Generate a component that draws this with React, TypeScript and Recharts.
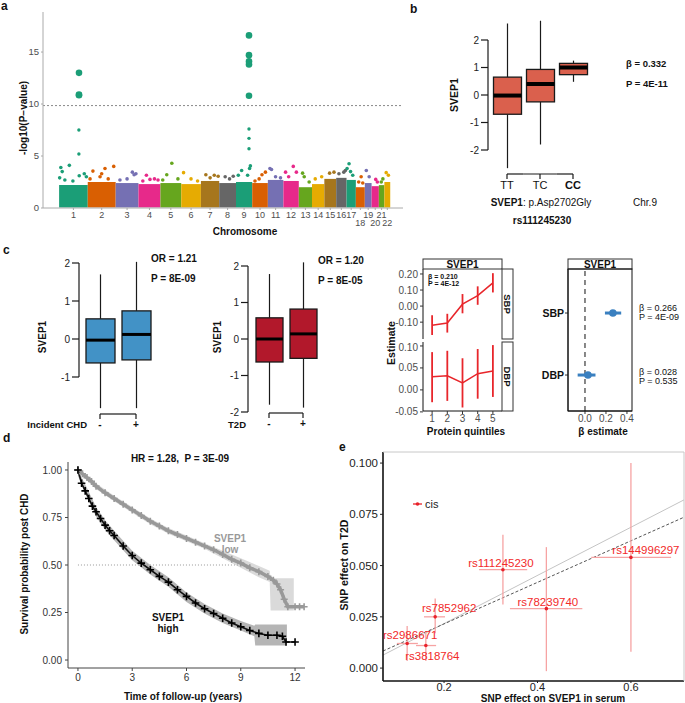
import React from "react";
import {
  ComposedChart,
  Bar,
  Line,
  Area,
  Scatter,
  XAxis,
  YAxis,
  ErrorBar,
  ReferenceLine,
  ReferenceArea,
} from "recharts";

const FONT = "'Liberation Sans', Arial, Helvetica, sans-serif";

// ---------- a: Manhattan ----------
const chromosomes = [1, 2, 3, 4, 5, 6, 7, 8, 9, 10, 11, 12, 13, 14, 15, 16, 17, 18, 19, 20, 21, 22];
const chromLengths = [249, 243, 198, 191, 181, 171, 159, 146, 141, 136, 135, 134, 115, 107, 103, 90, 81, 78, 59, 63, 48, 51];
const bandTops = [2.2, 2.5, 2.4, 2.3, 2.4, 2.3, 2.6, 2.4, 2.5, 2.4, 2.7, 2.6, 2.0, 2.3, 2.8, 2.9, 2.7, 2.0, 2.4, 2.1, 2.2, 2.5];
const gwThreshold = 9.85;
// [chromosome, position (Mb), -log10 P]
const snpPoints: [number, number, number][] = [
  [1, 15, 3.9], [1, 27, 3.5], [1, 89, 4.1], [1, 50, 2.7], [1, 175, 3.1], [1, 219, 3.3], [1, 237, 3.0], [1, 120, 2.6], [1, 5, 2.9],
  [2, 45, 3.55], [2, 150, 3.8], [2, 226, 4.0], [2, 107, 3.0], [2, 178, 2.8], [2, 20, 2.8], [2, 121, 3.3],
  [3, 145, 3.45], [3, 176, 3.3], [3, 37, 2.7], [3, 99, 2.8], [3, 160, 3.2],
  [4, 69, 3.15], [4, 139, 2.8], [4, 38, 2.6], [4, 170, 2.7], [4, 100, 2.75],
  [5, 99, 4.3], [5, 55, 3.2], [5, 152, 2.8], [5, 20, 2.7],
  [6, 20, 3.4], [6, 85, 2.8], [6, 142, 2.6],
  [7, 43, 3.2], [7, 116, 3.15], [7, 150, 3.05], [7, 80, 2.9],
  [8, 52, 3.0], [8, 122, 3.05], [8, 90, 2.8],
  [9, 20, 3.15], [9, 49, 3.6], [9, 101, 3.15], [9, 118, 3.8], [9, 125, 4.05],
  [10, 85, 3.2], [10, 115, 3.45], [10, 24, 2.6], [10, 60, 2.8],
  [11, 18, 3.8], [11, 32, 3.7], [11, 67, 3.0], [11, 110, 2.9],
  [12, 19, 3.45], [12, 86, 4.0], [12, 113, 3.45], [12, 46, 3.0],
  [13, 33, 3.35], [13, 47, 3.0], [13, 90, 2.5],
  [14, 28, 2.8], [14, 84, 3.0],
  [15, 46, 3.35], [15, 84, 3.45],
  [16, 24, 3.3], [16, 66, 3.45], [16, 80, 3.6],
  [17, 22, 4.25], [17, 5, 3.8], [17, 54, 3.15], [17, 35, 3.5],
  [18, 46, 3.0], [18, 25, 2.5], [18, 60, 2.4],
  [19, 13, 3.6], [19, 38, 3.0],
  [20, 36, 2.75], [20, 50, 2.5],
  [21, 21, 2.5], [21, 35, 2.8],
  [22, 16, 3.4], [22, 35, 3.15],
];
const hitPoints: [number, number, number][] = [
  [1, 173, 13.0], [1, 173, 10.9], [1, 173, 10.85], [1, 172, 7.5], [1, 172, 5.2],
  [9, 113, 16.6], [9, 113, 14.7], [9, 113, 14.1], [9, 113, 13.8], [9, 113, 10.8],
  [9, 113, 7.6], [9, 113, 6.7], [9, 113, 5.7],
];

// ---------- b: genotype boxplot ----------
const genotypes = ["TT", "TC", "CC"];
const genoMin = [-2.66, -1.8, 0.48];
const genoQ1 = [-0.7, -0.25, 0.74];
const genoMed = [-0.02, 0.4, 1.0];
const genoQ3 = [0.65, 0.93, 1.15];
const genoMax = [2.6, 2.7, 1.25];

// ---------- c: incident disease boxplots ----------
const caseGroups = ["-", "+"];
const chdMin = [-1.82, -1.82];
const chdQ1 = [-0.63, -0.55];
const chdMed = [-0.03, 0.12];
const chdQ3 = [0.53, 0.74];
const chdMax = [1.7, 2.03];
const t2dMin = [-1.8, -1.88];
const t2dQ1 = [-0.63, -0.53];
const t2dMed = [0.0, 0.14];
const t2dQ3 = [0.58, 0.82];
const t2dMax = [1.78, 2.1];

// ---------- c: blood pressure by quintile ----------
const quintiles = [1, 2, 3, 4, 5];
const sbpEst = [-0.12, -0.105, 0.012, 0.065, 0.145];
const sbpLo = [-0.18, -0.165, -0.045, 0.008, 0.085];
const sbpHi = [-0.057, -0.048, 0.075, 0.123, 0.205];
const dbpEst = [0.03, 0.032, 0.016, 0.037, 0.043];
const dbpLo = [-0.028, -0.025, -0.04, -0.02, -0.016];
const dbpHi = [0.086, 0.089, 0.072, 0.093, 0.102];

// ---------- c: forest ----------
const bpTraits = ["SBP", "DBP"];
const bpBeta = [0.266, 0.028];
const bpLo = [0.19, -0.07];
const bpHi = [0.345, 0.1];

// ---------- d: survival ----------
const lowT = [0, 0.25, 0.5, 0.75, 1, 1.5, 2, 2.5, 3, 3.5, 4, 4.5, 5, 5.5, 6, 6.5, 7, 7.5, 8, 8.5, 9, 9.5, 10, 10.5, 10.8, 11, 11.2, 11.4, 11.6, 12, 12.25, 12.5];
const lowS = [1.0, 0.98, 0.96, 0.94, 0.915, 0.88, 0.85, 0.82, 0.79, 0.76, 0.73, 0.705, 0.68, 0.66, 0.64, 0.62, 0.6, 0.58, 0.555, 0.53, 0.51, 0.485, 0.465, 0.44, 0.42, 0.4, 0.37, 0.32, 0.28, 0.28, 0.28, 0.28];
const lowBandT = [0, 1, 2, 3, 4, 5, 6, 7, 8, 9, 10, 10.6, 10.65, 11.93];
const lowBandLo = [0.99, 0.9, 0.835, 0.775, 0.715, 0.665, 0.625, 0.585, 0.535, 0.485, 0.435, 0.41, 0.26, 0.26];
const lowBandHi = [1.0, 0.93, 0.865, 0.805, 0.745, 0.695, 0.655, 0.615, 0.575, 0.535, 0.495, 0.47, 0.43, 0.43];
const highT = [0, 0.2, 0.4, 0.6, 0.8, 1.0, 1.25, 1.5, 1.75, 2, 2.5, 3, 3.5, 4, 4.5, 5, 5.5, 6, 6.5, 7, 7.5, 8, 8.5, 9, 9.5, 10, 10.5, 11, 11.3, 11.5, 12];
const highS = [1.0, 0.93, 0.89, 0.85, 0.81, 0.78, 0.745, 0.71, 0.68, 0.655, 0.6, 0.55, 0.51, 0.475, 0.44, 0.41, 0.37, 0.335, 0.3, 0.27, 0.245, 0.22, 0.195, 0.175, 0.155, 0.14, 0.13, 0.13, 0.125, 0.095, 0.095];
const highBandT = [0, 0.5, 1, 1.5, 2, 3, 4, 5, 6, 7, 8, 9, 9.75, 9.8, 11.55];
const highBandLo = [0.97, 0.855, 0.755, 0.685, 0.63, 0.525, 0.45, 0.385, 0.305, 0.245, 0.195, 0.155, 0.125, 0.077, 0.077];
const highBandHi = [1.0, 0.905, 0.805, 0.735, 0.68, 0.575, 0.5, 0.435, 0.355, 0.295, 0.245, 0.205, 0.18, 0.187, 0.187];

// ---------- e: MR scatter ----------
const snpIds = ["rs144996297", "rs111245230", "rs78239740", "rs7852962", "rs2986671", "rs3818764"];
const svepBeta = [0.6, 0.326, 0.419, 0.181, 0.121, 0.161];
const svepLo = [0.515, 0.275, 0.341, 0.157, 0.099, 0.14];
const svepHi = [0.686, 0.378, 0.496, 0.202, 0.144, 0.183];
const t2dBeta = [0.054, 0.048, 0.029, 0.025, 0.012, 0.011];
const t2dLo = [0.008, 0.031, -0.0015, 0.017, 0.0034, 0.0034];
const t2dHi = [0.1, 0.065, 0.059, 0.034, 0.0205, 0.018];
const mrSlopes = [0.1175, 0.1013];
const mrIntercepts = [-0.0018, 0.0013];

// ---------- styling helpers ----------
const dark2 = ["#1B9E77", "#D95F02", "#7570B3", "#E7298A", "#66A61E", "#E6AB02", "#A6761D", "#666666"];
const chrColor = (chr: number) => dark2[(chr - 1) % 8];
const chromStart: number[] = [];
chromLengths.reduce((acc, len, i) => {
  chromStart[i] = acc;
  return acc + len;
}, 0);

const labelOffsets: Record<string, [number, number]> = {
  rs144996297: [15, -7],
  rs111245230: [-2, -7],
  rs78239740: [1.5, -7],
  rs7852962: [14, -9],
  rs2986671: [3, -8],
  rs3818764: [6.5, 10],
};

function ChromTick(props: any) {
  const { x, y, payload, mids } = props;
  const i = mids.findIndex((m: number) => Math.abs(m - payload.value) < 0.01);
  const chr = chromosomes[i];
  const lower = chr === 18 || chr === 20 || chr === 22;
  return (
    <text x={x} y={y + (lower ? 10 : 2)} textAnchor="middle" dominantBaseline="central" fontSize={9} fill="#4d4d4d">
      {chr}
    </text>
  );
}

function Manhattan() {
  const pts = snpPoints.map(([chr, pos, p]) => ({ x: chromStart[chr - 1] + pos, y: p, chr }));
  const hits = hitPoints.map(([chr, pos, p]) => ({ x: chromStart[chr - 1] + pos, y: p, chr }));
  const mids = chromosomes.map((_, i) => chromStart[i] + chromLengths[i] / 2);
  return (
    <ComposedChart width={420} height={240} margin={{ top: 12, right: 17, bottom: 0, left: 0 }}>
      <XAxis
        type="number"
        dataKey="x"
        domain={[-140, 2990]}
        ticks={mids}
        interval={0}
        tick={<ChromTick mids={mids} />}
        tickSize={2}
        tickMargin={3}
        height={32}
        stroke="#aaa"
      />
      <YAxis
        type="number"
        dataKey="y"
        domain={[0, 18.85]}
        ticks={[0, 5, 10, 15]}
        width={43}
        tickSize={2}
        tickMargin={2}
        stroke="#aaa"
        tick={{ fontSize: 9.5, fill: "#4d4d4d" }}
      />
      {chromosomes.map((c, i) => (
        <ReferenceArea
          key={c}
          x1={chromStart[i]}
          x2={chromStart[i] + chromLengths[i]}
          y1={0.05}
          y2={bandTops[i]}
          fill={chrColor(c)}
          fillOpacity={1}
          stroke="none"
        />
      ))}
      <ReferenceLine y={gwThreshold} stroke="#888" strokeDasharray="2 2" />
      <Scatter
        data={pts}
        dataKey="y"
        isAnimationActive={false}
        shape={(p: any) => <circle cx={p.cx} cy={p.cy} r={1.8} fill={chrColor(p.payload.chr)} />}
      />
      <Scatter
        data={hits}
        dataKey="y"
        isAnimationActive={false}
        shape={(p: any) => (
          <circle cx={p.cx} cy={p.cy} r={p.payload.y > gwThreshold ? 3.3 : 1.7} fill={chrColor(p.payload.chr)} />
        )}
      />
    </ComposedChart>
  );
}

function BoxShape(props: any) {
  const { x, y, width, height, payload, fill, medianWidth } = props;
  const top = Math.min(y, y + height);
  const h = Math.abs(height);
  const ppu = h / (payload.q3 - payload.q1);
  const cx = x + width / 2;
  const yOf = (v: number) => top + (payload.q3 - v) * ppu;
  return (
    <g>
      <line x1={cx} x2={cx} y1={yOf(payload.max)} y2={top} stroke="#1a1a1a" strokeWidth={1.2} />
      <line x1={cx} x2={cx} y1={top + h} y2={yOf(payload.min)} stroke="#1a1a1a" strokeWidth={1.2} />
      <rect x={x} y={top} width={width} height={h} fill={fill} stroke="#1a1a1a" strokeWidth={1.3} />
      <line x1={x} x2={x + width} y1={yOf(payload.median)} y2={yOf(payload.median)} stroke="#000" strokeWidth={medianWidth} />
    </g>
  );
}

function BracketTick(props: any) {
  const { x, y, payload, index, count, band, drop, gap, fontSize, boldIndex, bold } = props;
  const ly = y + drop;
  const left = index > 0 ? x - band / 2 : x;
  const right = index < count - 1 ? x + band / 2 : x;
  const isBold = bold || index === boldIndex;
  return (
    <g>
      <line x1={left} x2={right} y1={ly} y2={ly} stroke="#1a1a1a" strokeWidth={1.2} />
      <line x1={x} x2={x} y1={ly} y2={ly + 5} stroke="#1a1a1a" strokeWidth={1.2} />
      <text
        x={x}
        y={ly + gap}
        textAnchor="middle"
        dominantBaseline="central"
        fontSize={fontSize}
        fontWeight={isBold ? "bold" : "normal"}
        fill="#111"
      >
        {payload.value}
      </text>
    </g>
  );
}

function BoxPanel(props: any) {
  const { cats, mins, q1s, meds, q3s, maxs, fill, width, height, margin, yWidth, domain, ticks, padLeft, barSize, xHeight, drop, band, gap, fontSize, boldIndex, bold, medianWidth } = props;
  const rows = cats.map((c: string, i: number) => ({
    g: c,
    box: [q1s[i], q3s[i]],
    min: mins[i],
    q1: q1s[i],
    median: meds[i],
    q3: q3s[i],
    max: maxs[i],
  }));
  return (
    <ComposedChart width={width} height={height} data={rows} margin={margin}>
      <XAxis
        dataKey="g"
        type="category"
        padding={{ left: padLeft, right: 0 }}
        axisLine={false}
        tickLine={false}
        tickSize={0}
        tickMargin={0}
        height={xHeight}
        interval={0}
        tick={<BracketTick count={cats.length} band={band} drop={drop} gap={gap} fontSize={fontSize} boldIndex={boldIndex} bold={bold} />}
      />
      <YAxis
        type="number"
        domain={domain}
        ticks={ticks}
        width={yWidth}
        tickSize={7}
        tickMargin={2}
        axisLine={{ stroke: "#1a1a1a", strokeWidth: 1.2 }}
        tickLine={{ stroke: "#1a1a1a", strokeWidth: 1.2 }}
        tick={{ fontSize: 10, fill: "#222" }}
      />
      <Bar dataKey="box" barSize={barSize} fill={fill} isAnimationActive={false} shape={<BoxShape medianWidth={medianWidth} />} />
    </ComposedChart>
  );
}

function QuintileFacet(props: any) {
  const { est, lo, hi, domain, ticks, width, height, margin, showX, xHeight } = props;
  const rows = quintiles.map((q, i) => ({ q, est: est[i], err: [est[i] - lo[i], hi[i] - est[i]] }));
  return (
    <ComposedChart width={width} height={height} data={rows} margin={margin}>
      <XAxis
        type="number"
        dataKey="q"
        domain={[0.4, 5.6]}
        ticks={quintiles}
        hide={!showX}
        height={xHeight}
        tickSize={3}
        tickMargin={1}
        axisLine={{ stroke: "#111" }}
        tickLine={{ stroke: "#333" }}
        tick={{ fontSize: 10, fill: "#4d4d4d" }}
      />
      <YAxis
        type="number"
        domain={domain}
        ticks={ticks}
        tickFormatter={(v: number) => v.toFixed(2)}
        width={53}
        tickSize={3}
        tickMargin={2}
        axisLine={{ stroke: "#111" }}
        tickLine={{ stroke: "#333" }}
        tick={{ fontSize: 10, fill: "#4d4d4d" }}
      />
      <Line dataKey="est" stroke="#e8262b" strokeWidth={1.5} dot={false} isAnimationActive={false}>
        <ErrorBar dataKey="err" direction="y" width={0} strokeWidth={1.8} stroke="#e8262b" />
      </Line>
    </ComposedChart>
  );
}

function Forest() {
  const rows = bpTraits.map((t, i) => ({
    x: bpBeta[i],
    y: bpTraits.length - i,
    err: [bpBeta[i] - bpLo[i], bpHi[i] - bpBeta[i]],
  }));
  return (
    <ComposedChart width={120} height={190} margin={{ top: 10, right: 8, bottom: 0, left: 0 }}>
      <XAxis
        type="number"
        dataKey="x"
        domain={[-0.162, 0.448]}
        ticks={[0, 0.2, 0.4]}
        tickFormatter={(v: number) => v.toFixed(1)}
        height={38}
        tickSize={3}
        tickMargin={1}
        axisLine={{ stroke: "#111" }}
        tickLine={{ stroke: "#333" }}
        tick={{ fontSize: 10, fill: "#4d4d4d" }}
      />
      <YAxis
        type="number"
        dataKey="y"
        domain={[0.42, 2.71]}
        ticks={[1, 2]}
        tickFormatter={(v: number) => bpTraits[bpTraits.length - v]}
        width={48}
        tickSize={3}
        tickMargin={1}
        axisLine={{ stroke: "#111" }}
        tickLine={{ stroke: "#333" }}
        tick={{ fontSize: 10.5, fill: "#111", fontWeight: "bold" }}
      />
      <ReferenceLine x={0} stroke="#111" strokeDasharray="5 4" strokeWidth={1} />
      <Scatter
        data={rows}
        dataKey="y"
        isAnimationActive={false}
        shape={(p: any) => <circle cx={p.cx} cy={p.cy} r={3.8} fill="#3a80c0" />}
      >
        <ErrorBar dataKey="err" direction="x" width={0} strokeWidth={3} stroke="#3a80c0" />
      </Scatter>
    </ComposedChart>
  );
}

const plusDot = (color: string, size: number, sw: number) => (p: any) => {
  if (p.cx == null || p.cy == null) return <g key={p.index} />;
  return (
    <path
      key={p.index}
      d={`M${p.cx - size},${p.cy}H${p.cx + size}M${p.cx},${p.cy - size}V${p.cy + size}`}
      stroke={color}
      strokeWidth={sw}
      fill="none"
    />
  );
};

function Survival() {
  const lowRows = lowT.map((t, i) => ({ t, s: lowS[i] }));
  const highRows = highT.map((t, i) => ({ t, s: highS[i] }));
  const lowBand = lowBandT.map((t, i) => ({ t, band: [lowBandLo[i], lowBandHi[i]] }));
  const highBand = highBandT.map((t, i) => ({ t, band: [highBandLo[i], highBandHi[i]] }));
  return (
    <ComposedChart width={320} height={258} margin={{ top: 17, right: 15, bottom: 0, left: 0 }}>
      <XAxis
        type="number"
        dataKey="t"
        domain={[-0.55, 12.55]}
        ticks={[0, 3, 6, 9, 12]}
        height={35}
        tickSize={3}
        tickMargin={3}
        axisLine={{ stroke: "#444" }}
        tickLine={{ stroke: "#444" }}
        tick={{ fontSize: 10, fill: "#333" }}
      />
      <YAxis
        type="number"
        domain={[-0.042, 1.042]}
        ticks={[0, 0.25, 0.5, 0.75, 1]}
        tickFormatter={(v: number) => v.toFixed(2)}
        width={68}
        tickSize={3}
        tickMargin={3}
        axisLine={{ stroke: "#444" }}
        tickLine={{ stroke: "#444" }}
        tick={{ fontSize: 10, fill: "#333" }}
      />
      <Area data={lowBand} dataKey="band" type="linear" fill="#d4d4d4" fillOpacity={0.85} stroke="none" isAnimationActive={false} />
      <Area data={highBand} dataKey="band" type="linear" fill="#a8a8a8" fillOpacity={0.85} stroke="none" isAnimationActive={false} />
      <ReferenceLine
        segment={[{ x: 0, y: 0.5 }, { x: 9, y: 0.5 }]}
        stroke="#999"
        strokeDasharray="1 2"
      />
      <Line data={lowRows} dataKey="s" type="linear" stroke="#999" strokeWidth={3.5} dot={plusDot("#999", 3.5, 1.6)} isAnimationActive={false} />
      <Line data={highRows} dataKey="s" type="linear" stroke="#111" strokeWidth={1.6} dot={plusDot("#000", 3.8, 1.6)} isAnimationActive={false} />
    </ComposedChart>
  );
}

function SnpPoint(p: any) {
  const off = labelOffsets[p.payload.id] || [0, -8];
  return (
    <g>
      <circle cx={p.cx} cy={p.cy} r={1.8} fill="#e8222b" />
      <text
        x={p.cx + off[0]}
        y={p.cy + off[1]}
        textAnchor="middle"
        dominantBaseline="central"
        fontSize={11.5}
        fill="#f22a2a"
      >
        {p.payload.id}
      </text>
    </g>
  );
}

function MrScatter() {
  const xDom = [0.0693, 0.7136];
  const rows = snpIds.map((id, i) => ({
    id,
    x: svepBeta[i],
    y: t2dBeta[i],
    ex: [svepBeta[i] - svepLo[i], svepHi[i] - svepBeta[i]],
    ey: [t2dBeta[i] - t2dLo[i], t2dHi[i] - t2dBeta[i]],
  }));
  const lineStyles = [
    { stroke: "#c4c4c4", strokeDasharray: undefined },
    { stroke: "#555", strokeDasharray: "3 2" },
  ];
  return (
    <ComposedChart width={345} height={263} margin={{ top: 12, right: 1, bottom: 0, left: 0 }}>
      <XAxis
        type="number"
        dataKey="x"
        domain={xDom}
        ticks={[0.2, 0.4, 0.6]}
        tickFormatter={(v: number) => v.toFixed(1)}
        height={22}
        tickSize={2}
        tickMargin={0}
        axisLine={{ stroke: "#111", strokeWidth: 1.6 }}
        tickLine={{ stroke: "#222" }}
        tick={{ fontSize: 11, fill: "#222" }}
      />
      <YAxis
        type="number"
        dataKey="y"
        domain={[-0.0063, 0.1054]}
        ticks={[0, 0.025, 0.05, 0.075, 0.1]}
        tickFormatter={(v: number) => v.toFixed(3)}
        width={43}
        tickSize={3}
        tickMargin={2}
        axisLine={{ stroke: "#111", strokeWidth: 1.6 }}
        tickLine={{ stroke: "#222" }}
        tick={{ fontSize: 11.5, fill: "#222" }}
      />
      {mrSlopes.map((b, i) => (
        <ReferenceLine
          key={i}
          ifOverflow="hidden"
          segment={[
            { x: xDom[0], y: mrIntercepts[i] + b * xDom[0] },
            { x: xDom[1], y: mrIntercepts[i] + b * xDom[1] },
          ]}
          stroke={lineStyles[i].stroke}
          strokeDasharray={lineStyles[i].strokeDasharray}
          strokeWidth={1}
        />
      ))}
      <Scatter data={rows} dataKey="y" isAnimationActive={false} shape={SnpPoint}>
        <ErrorBar dataKey="ex" direction="x" width={0} strokeWidth={1.3} stroke="#f6a3a3" />
        <ErrorBar dataKey="ey" direction="y" width={0} strokeWidth={1.3} stroke="#f6a3a3" />
      </Scatter>
    </ComposedChart>
  );
}

function T(props: any) {
  const { x, y, size = 10, bold = false, anchor = "start", rotate, fill = "#111", children } = props;
  return (
    <text
      x={x}
      y={y}
      fontSize={size}
      fontWeight={bold ? "bold" : "normal"}
      textAnchor={anchor}
      dominantBaseline="central"
      fill={fill}
      style={{ whiteSpace: "pre" }}
      transform={rotate ? `rotate(${rotate} ${x} ${y})` : undefined}
    >
      {children}
    </text>
  );
}

function Overlay() {
  return (
    <svg width={685} height={703} style={{ position: "absolute", left: 0, top: 0, pointerEvents: "none", fontFamily: FONT }}>
      {/* panel letters */}
      <T x={1} y={6} size={12} bold>a</T>
      <T x={410} y={9} size={12} bold>b</T>
      <T x={3} y={250} size={12} bold>c</T>
      <T x={3} y={438} size={12} bold>d</T>
      <T x={339} y={447} size={12} bold>e</T>

      {/* a */}
      <T x={23} y={118} bold rotate={-90} anchor="middle">-log10(P−value)</T>
      <T x={245} y={231} bold anchor="middle">Chromosome</T>

      {/* b */}
      <T x={454} y={95} bold size={10.5} rotate={-90} anchor="middle">SVEP1</T>
      <T x={626} y={63} bold size={9.5}>β = 0.332</T>
      <T x={626} y={83} bold size={9.5}>P = 4E-11</T>
      <text x={541} y={202} fontSize={10} textAnchor="middle" dominantBaseline="central" fill="#111">
        <tspan fontWeight="bold">SVEP1</tspan>: p.Asp2702Gly
      </text>
      <T x={645} y={202} anchor="middle">Chr.9</T>
      <T x={542} y={220} bold anchor="middle">rs111245230</T>

      {/* c boxplots */}
      <T x={42} y={337} bold rotate={-90} anchor="middle">SVEP1</T>
      <T x={151} y={258} bold>OR = 1.21</T>
      <T x={151} y={278} bold>P = 8E-09</T>
      <T x={87} y={424} bold size={9.5} anchor="end">Incident CHD</T>
      <T x={217} y={337} bold rotate={-90} anchor="middle">SVEP1</T>
      <T x={318} y={260} bold>OR = 1.20</T>
      <T x={318} y={280} bold>P = 8E-05</T>
      <T x={246} y={424} bold size={9.5} anchor="end">T2D</T>

      {/* c quintile facets */}
      <rect x={423} y={259} width={79} height={10} fill="#fff" stroke="#333" strokeWidth={1} />
      <T x={462.5} y={264.5} bold size={10} anchor="middle">SVEP1</T>
      <rect x={502} y={269} width={11} height={70} fill="#fff" stroke="#333" strokeWidth={1} />
      <rect x={502} y={342} width={11} height={69} fill="#fff" stroke="#333" strokeWidth={1} />
      <T x={507.5} y={304} bold size={9.5} rotate={90} anchor="middle">SBP</T>
      <T x={507.5} y={376.5} bold size={9.5} rotate={90} anchor="middle">DBP</T>
      <T x={428} y={276} bold size={7}>β = 0.210</T>
      <T x={428} y={283.5} bold size={7}>P = 4E-12</T>
      <T x={391} y={343} bold size={10.5} rotate={-90} anchor="middle">Estimate</T>
      <T x={466} y={431} bold anchor="middle">Protein quintiles</T>

      {/* c forest */}
      <rect x={568} y={259} width={64} height={10} fill="#fff" stroke="#333" strokeWidth={1} />
      <T x={600} y={264.5} bold size={10} anchor="middle">SVEP1</T>
      <rect x={568} y={269} width={64} height={142} fill="none" stroke="#111" strokeWidth={1} />
      <T x={639} y={308} size={9}>β = 0.266</T>
      <T x={639} y={316.5} size={9}>P = 4E-09</T>
      <T x={639} y={372} size={9}>β = 0.028</T>
      <T x={639} y={380.5} size={9}>P = 0.535</T>
      <T x={603} y={431} bold anchor="middle">β estimate</T>

      {/* d */}
      <T x={180} y={458} bold anchor="middle">HR = 1.28,  P = 3E-09</T>
      <T x={24} y={564} bold rotate={-90} anchor="middle">Survival probability post CHD</T>
      <T x={183} y={696} bold anchor="middle">Time of follow-up (years)</T>
      <T x={230} y={538.5} bold size={10} anchor="middle" fill="#999">SVEP1</T>
      <T x={230} y={549} bold size={10} anchor="middle" fill="#999">low</T>
      <T x={168} y={617} bold size={10} anchor="middle">SVEP1</T>
      <T x={168} y={628} bold size={10} anchor="middle">high</T>

      {/* e */}
      <line x1={383} x2={684} y1={452} y2={452} stroke="#c8c8c8" strokeWidth={1} />
      <line x1={684} x2={684} y1={452} y2={681} stroke="#c8c8c8" strokeWidth={1} />
      <T x={344} y={565} bold size={10.5} rotate={-90} anchor="middle">SNP effect on T2D</T>
      <T x={553} y={698} bold size={10} anchor="middle">SNP effect on SVEP1 in serum</T>
      <line x1={413} x2={422} y1={504} y2={504} stroke="#e8222b" strokeWidth={1.3} />
      <circle cx={417.5} cy={504} r={1.8} fill="#e8222b" />
      <T x={425} y={504} size={11} fill="#222">cis</T>
    </svg>
  );
}

export default function App() {
  return (
    <div
      style={{
        position: "absolute",
        left: 0,
        top: 0,
        width: 685,
        height: 703,
        background: "#fff",
        fontFamily: FONT,
        overflow: "hidden",
      }}
    >
      <div style={{ position: "absolute", left: 0, top: 0 }}>
        <Manhattan />
      </div>
      <div style={{ position: "absolute", left: 420, top: 0 }}>
        <BoxPanel
          cats={genotypes} mins={genoMin} q1s={genoQ1} meds={genoMed} q3s={genoQ3} maxs={genoMax}
          fill="#da604d" width={180} height={200} margin={{ top: 40, right: 10.5, bottom: 0, left: 0 }}
          yWidth={68} domain={[-2, 2]} ticks={[-2, -1, 0, 1, 2]} padLeft={2.5} barSize={28} xHeight={50}
          drop={24} band={33} gap={11} fontSize={11} boldIndex={2} bold={false} medianWidth={4}
        />
      </div>
      <div style={{ position: "absolute", left: 0, top: 240 }}>
        <BoxPanel
          cats={caseGroups} mins={chdMin} q1s={chdQ1} meds={chdMed} q3s={chdQ3} maxs={chdMax}
          fill="#4292c6" width={200} height={200} margin={{ top: 23, right: 46, bottom: 0, left: 0 }}
          yWidth={79} domain={[-1, 2]} ticks={[-1, 0, 1, 2]} padLeft={3} barSize={29} xHeight={63}
          drop={37} band={36} gap={10} fontSize={10} boldIndex={-1} bold medianWidth={3}
        />
      </div>
      <div style={{ position: "absolute", left: 170, top: 240 }}>
        <BoxPanel
          cats={caseGroups} mins={t2dMin} q1s={t2dQ1} meds={t2dMed} q3s={t2dQ3} maxs={t2dMax}
          fill="#b2182b" width={180} height={200} margin={{ top: 26, right: 30, bottom: 0, left: 0 }}
          yWidth={78} domain={[-2, 2]} ticks={[-2, -1, 0, 1, 2]} padLeft={4} barSize={27} xHeight={28}
          drop={1} band={34} gap={10} fontSize={10} boldIndex={-1} bold medianWidth={3}
        />
      </div>
      <div style={{ position: "absolute", left: 370, top: 259 }}>
        <QuintileFacet
          est={sbpEst} lo={sbpLo} hi={sbpHi} domain={[-0.205, 0.231]} ticks={[-0.1, 0, 0.1, 0.2]}
          width={140} height={80} margin={{ top: 10, right: 8, bottom: 0, left: 0 }} showX={false} xHeight={0}
        />
      </div>
      <div style={{ position: "absolute", left: 370, top: 342 }}>
        <QuintileFacet
          est={dbpEst} lo={dbpLo} hi={dbpHi} domain={[-0.048, 0.109]} ticks={[-0.05, 0, 0.05, 0.1]}
          width={140} height={100} margin={{ top: 0, right: 8, bottom: 0, left: 0 }} showX xHeight={31}
        />
      </div>
      <div style={{ position: "absolute", left: 520, top: 259 }}>
        <Forest />
      </div>
      <div style={{ position: "absolute", left: 0, top: 445 }}>
        <Survival />
      </div>
      <div style={{ position: "absolute", left: 340, top: 440 }}>
        <MrScatter />
      </div>
      <Overlay />
    </div>
  );
}
